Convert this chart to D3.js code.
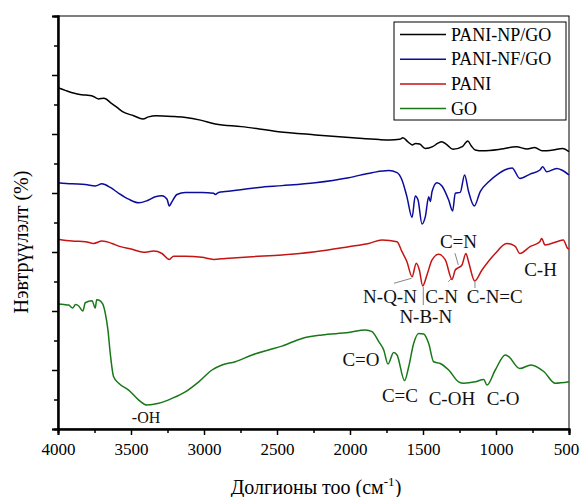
<!DOCTYPE html>
<html>
<head>
<meta charset="utf-8">
<script src="https://cdn.jsdelivr.net/npm/d3@7"></script>
<style>
  body { margin: 0; background: #fff; }
  svg text { font-family: "Liberation Serif", "Times New Roman", serif; }
</style>
</head>
<body>
<div id="chart"></div>
<script>
// [wavenumber cm-1, transmittance (arb. units)]
const pani_np_go = [[4000,11.57],[3950,11.48],[3888,11.38],[3850,11.34],[3812,11.32],[3770,11.30],[3723,11.19],[3685,11.21],[3634,11.04],[3595,10.9],[3558,10.76],[3482,10.62],[3418,10.51],[3380,10.58],[3329,10.62],[3202,10.59],[3125,10.56],[3024,10.47],[2922,10.34],[2744,10.25],[2490,10.08],[2236,9.97],[1981,9.87],[1800,9.81],[1727,9.80],[1660,9.82],[1638,9.87],[1600,9.72],[1574,9.63],[1550,9.68],[1523,9.66],[1485,9.51],[1434,9.57],[1400,9.68],[1371,9.74],[1340,9.65],[1295,9.48],[1231,9.57],[1205,9.72],[1193,9.76],[1170,9.6],[1142,9.46],[1091,9.43],[964,9.49],[862,9.57],[786,9.49],[735,9.54],[684,9.43],[608,9.46],[544,9.51],[500,9.40]];

const pani_nf_go = [[4000,8.35],[3904,8.31],[3813,8.29],[3744,8.24],[3699,8.31],[3642,8.19],[3584,7.99],[3516,7.79],[3447,7.67],[3390,7.74],[3334,7.87],[3288,7.91],[3253,7.79],[3238,7.56],[3219,7.71],[3185,7.95],[3128,8.02],[3014,8.02],[2934,7.99],[2923,7.95],[2900,8.02],[2854,8.05],[2762,8.10],[2625,8.19],[2466,8.25],[2238,8.35],[2009,8.52],[1849,8.69],[1735,8.76],[1678,8.69],[1644,8.44],[1610,7.87],[1575,7.17],[1553,7.90],[1534,7.76],[1507,6.95],[1484,7.20],[1461,7.87],[1450,7.71],[1438,8.05],[1404,8.35],[1370,8.24],[1324,7.76],[1297,7.39],[1279,7.99],[1245,8.02],[1215,8.61],[1188,8.05],[1149,7.56],[1108,8.05],[1050,8.38],[982,8.66],[913,8.83],[890,8.85],[836,8.49],[767,8.64],[699,8.78],[680,8.89],[653,8.72],[584,8.83],[550,8.78],[500,8.61]];

const pani = [[4000,6.43],[3904,6.37],[3813,6.35],[3756,6.29],[3699,6.37],[3630,6.29],[3584,6.20],[3493,6.09],[3413,5.99],[3345,6.03],[3288,5.95],[3238,5.75],[3208,5.86],[3128,5.86],[3014,5.82],[2934,5.75],[2854,5.78],[2671,5.84],[2466,5.90],[2238,6.01],[2009,6.18],[1872,6.29],[1781,6.41],[1678,6.35],[1644,6.01],[1610,5.67],[1575,5.16],[1546,5.62],[1525,5.39],[1502,4.85],[1473,5.22],[1438,5.73],[1393,5.92],[1347,5.73],[1301,5.07],[1279,5.39],[1256,5.47],[1233,5.56],[1206,5.95],[1188,5.67],[1146,5.02],[1096,5.39],[1005,5.95],[927,6.29],[870,6.2],[836,5.95],[767,6.18],[700,6.35],[687,6.46],[665,6.24],[584,6.35],[539,6.41],[509,6.12],[500,6.1]];

const go = [[4000,4.24],[3960,4.22],[3927,4.20],[3900,4.1],[3880,4.22],[3858,4.17],[3830,4.0],[3813,4.28],[3767,4.35],[3745,4.1],[3735,4.38],[3721,4.37],[3694,4.24],[3676,3.92],[3658,3.36],[3642,2.56],[3619,1.77],[3584,1.55],[3516,1.32],[3447,0.98],[3390,0.81],[3310,0.87],[3219,1.04],[3128,1.26],[3036,1.60],[2945,2.00],[2877,2.17],[2786,2.28],[2671,2.51],[2557,2.68],[2466,2.81],[2329,3.07],[2192,3.19],[2009,3.27],[1895,3.36],[1849,3.30],[1803,2.96],[1769,2.68],[1740,2.20],[1701,2.59],[1678,2.51],[1626,1.64],[1598,2.11],[1564,2.90],[1530,3.24],[1495,3.22],[1461,2.90],[1427,2.28],[1382,2.22],[1324,2.00],[1256,1.60],[1221,1.55],[1142,1.60],[1084,1.68],[1062,1.49],[1005,2.00],[936,2.51],[913,2.45],[837,2.05],[760,2.17],[671,1.94],[595,1.55],[500,1.60]];

const seriesNames = ["PANI-NP/GO", "PANI-NF/GO", "PANI", "GO"];
const seriesColors = ["#000000", "#0c0c9c", "#c41414", "#187818"];
const xMajorTicks = [4000, 3500, 3000, 2500, 2000, 1500, 1000, 500];
const xMinorTicks = [3750, 3250, 2750, 2250, 1750, 1250, 750];

// peak labels: [text, wavenumber, value]
const peakLabels = [
  ["C=N", 1257, 6.14], ["C-H", 695, 5.19], ["N-Q-N", 1726, 4.27], ["C-N", 1373, 4.27],
  ["C-N=C", 1009, 4.27], ["N-B-N", 1481, 3.59], ["C=O", 1925, 2.14], ["C=C", 1658, 0.93],
  ["C-OH", 1302, 0.81], ["C-O", 952, 0.81]
];
// leader lines: [w1, v1, w2, v2]
const leaders = [
  [1699, 4.94, 1578, 5.11], [1498, 4.82, 1498, 4.20], [1327, 4.99, 1293, 5.16],
  [1281, 5.96, 1258, 5.56], [1144, 4.99, 1144, 4.78]
];

const width = 580, height = 497;
const svg = d3.select("#chart").append("svg")
  .attr("width", width).attr("height", height);

const x = d3.scaleLinear().domain([4000, 500]).range([58, 569]);
const y = d3.scaleLinear().domain([0, 14]).range([429, 16]);

// frame
svg.append("rect")
  .attr("x", x(4000)).attr("y", y(14))
  .attr("width", x(500) - x(4000)).attr("height", y(0) - y(14))
  .attr("fill", "none").attr("stroke", "#000").attr("stroke-width", 1);

const line = d3.line()
  .x(d => x(d[0])).y(d => y(d[1]))
  .curve(d3.curveMonotoneX);

[pani_np_go, pani_nf_go, pani, go].forEach((data, i) => {
  svg.append("path")
    .datum(data)
    .attr("fill", "none")
    .attr("stroke", seriesColors[i])
    .attr("stroke-width", 1.5)
    .attr("d", line);
});

// x axis
const xAxis = svg.append("g")
  .attr("transform", `translate(0,${y(0)})`)
  .call(d3.axisBottom(x).tickValues(xMajorTicks).tickSize(6).tickPadding(8).tickFormat(d3.format("d")));
svg.append("g")
  .attr("transform", `translate(0,${y(0)})`)
  .call(d3.axisBottom(x).tickValues(xMinorTicks).tickSize(4).tickFormat(""));

// y axis, no labels
svg.append("g")
  .attr("transform", `translate(${x(4000)},0)`)
  .call(d3.axisLeft(y).tickValues(d3.range(0, 15, 2)).tickSize(6).tickFormat(""));
svg.append("g")
  .attr("transform", `translate(${x(4000)},0)`)
  .call(d3.axisLeft(y).tickValues(d3.range(1, 15, 2)).tickSize(4).tickFormat(""));

svg.selectAll(".domain").attr("stroke", "#000").attr("stroke-width", 2);
svg.selectAll(".tick line").attr("stroke", "#000").attr("stroke-width", 1.5);
xAxis.attr("font-family", null).attr("font-size", null);
xAxis.selectAll("text")
  .attr("font-size", 17).attr("fill", "#000")
  .attr("dx", d => d === 500 ? -3 : 0);

// axis titles
const xt = svg.append("text")
  .attr("x", 316).attr("y", 494)
  .attr("text-anchor", "middle")
  .attr("font-size", 20);
xt.append("tspan").text("Долгионы тоо (см");
xt.append("tspan").attr("font-size", 13).attr("dy", -8).text("-1");
xt.append("tspan").attr("dy", 8).text(")");

svg.append("text")
  .attr("transform", "translate(28,242) rotate(-90)")
  .attr("text-anchor", "middle")
  .attr("font-size", 20)
  .text("Нэвтрүүлэлт (%)");

// peak annotations
svg.selectAll(".leader").data(leaders).enter().append("line")
  .attr("x1", d => x(d[0])).attr("y1", d => y(d[1]))
  .attr("x2", d => x(d[2])).attr("y2", d => y(d[3]))
  .attr("stroke", "#666").attr("stroke-width", 0.8);

svg.selectAll(".peak").data(peakLabels).enter().append("text")
  .attr("x", d => x(d[1])).attr("y", d => y(d[2]))
  .attr("text-anchor", "middle")
  .attr("font-size", 19)
  .attr("fill", "#111")
  .text(d => d[0]);

svg.append("text")
  .attr("x", x(3397)).attr("y", y(0.2))
  .attr("text-anchor", "middle")
  .attr("font-size", 16)
  .attr("fill", "#111")
  .text("-OH");

// legend
const legend = svg.append("g").attr("transform", "translate(394,22)");
legend.append("rect")
  .attr("width", 172).attr("height", 98)
  .attr("fill", "#fff").attr("stroke", "#000").attr("stroke-width", 1);
seriesNames.forEach((name, i) => {
  const ly = 12.5 + i * 24.7;
  legend.append("line")
    .attr("x1", 6).attr("x2", 52).attr("y1", ly).attr("y2", ly)
    .attr("stroke", seriesColors[i]).attr("stroke-width", 1.5);
  legend.append("text")
    .attr("x", 57).attr("y", ly + 6)
    .attr("font-size", 18)
    .text(name);
});
</script>
</body>
</html>
